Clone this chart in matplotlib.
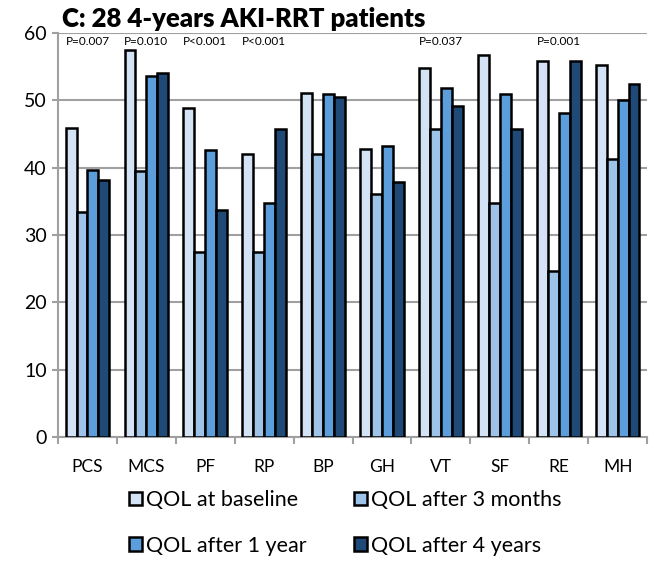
import matplotlib.pyplot as plt
from matplotlib.patches import Patch
import numpy as np

plt.rcParams["font.family"] = ["Lato", "DejaVu Sans"]

categories = ["PCS", "MCS", "PF", "RP", "BP", "GH", "VT", "SF", "RE", "MH"]
series_names = ["QOL at baseline", "QOL after 3 months", "QOL after 1 year", "QOL after 4 years"]

baseline = [45.9, 57.5, 48.8, 42.0, 51.1, 42.8, 54.8, 56.8, 55.8, 55.3]
after_3m = [33.4, 39.5, 27.5, 27.5, 42.0, 36.1, 45.7, 34.8, 24.7, 41.3]
after_1y = [39.6, 53.6, 42.6, 34.8, 51.0, 43.3, 51.9, 51.0, 48.1, 50.0]
after_4y = [38.2, 54.1, 33.7, 45.8, 50.5, 37.9, 49.1, 45.7, 55.8, 52.5]

p_values = {"PCS": "P=0.007", "MCS": "P=0.010", "PF": "P<0.001", "RP": "P<0.001",
            "VT": "P=0.037", "RE": "P=0.001"}

colors = ["#D3E2F4", "#9DC3E8", "#5C9EDB", "#1F4A78"]

fig = plt.figure(figsize=(6.59, 5.61), dpi=100)
ax = fig.add_axes([0.088, 0.221, 0.894, 0.720])

x = np.arange(len(categories))
width = 0.185
all_series = [baseline, after_3m, after_1y, after_4y]
for i, (vals, col) in enumerate(zip(all_series, colors)):
    ax.bar(x + (i - 1.5) * width, vals, width, color=col, edgecolor="black",
           linewidth=1.8, zorder=3, label=series_names[i])

ax.set_xlim(-0.5, len(categories) - 0.5)
ax.set_ylim(0, 60)
ax.set_yticks(range(0, 61, 10))
ax.tick_params(axis="y", labelsize=14, length=4, color="#A0A0A0", width=1.5, pad=4)
ax.set_xticks(x)
ax.set_xticklabels(categories)
ax.set_xticks(np.arange(-0.5, len(categories)), minor=True)
ax.tick_params(axis="x", which="major", length=0, labelsize=12.5, pad=16)
ax.tick_params(axis="x", which="minor", length=5, color="#A0A0A0", width=1.5)
ax.yaxis.grid(True, color="#A0A0A0", linewidth=1.5, zorder=0)
ax.set_axisbelow(True)
for side in ["top", "right"]:
    ax.spines[side].set_visible(False)
for side in ["left", "bottom"]:
    ax.spines[side].set_color("#A0A0A0")
    ax.spines[side].set_linewidth(1.5)

for cat, text in p_values.items():
    ax.text(categories.index(cat), 58.7, text, ha="center", va="center", fontsize=8.5)

fig.text(0.094, 0.966, "C: 28 4-years AKI-RRT patients", fontsize=18.5, fontweight="heavy",
         ha="left", va="center")

# legend fills column-first, so order handles to read row-wise like the original
handles = [Patch(facecolor=c, edgecolor="black", linewidth=1.8) for c in colors]
order = [0, 2, 1, 3]
fig.legend([handles[i] for i in order], [series_names[i] for i in order],
           loc="center", bbox_to_anchor=(0.524, 0.068), ncol=2,
           frameon=False, fontsize=15.5, handlelength=0.6, handleheight=0.6,
           handletextpad=0.2, columnspacing=2.2, labelspacing=1.2)

fig.savefig("out.png", dpi=100)
